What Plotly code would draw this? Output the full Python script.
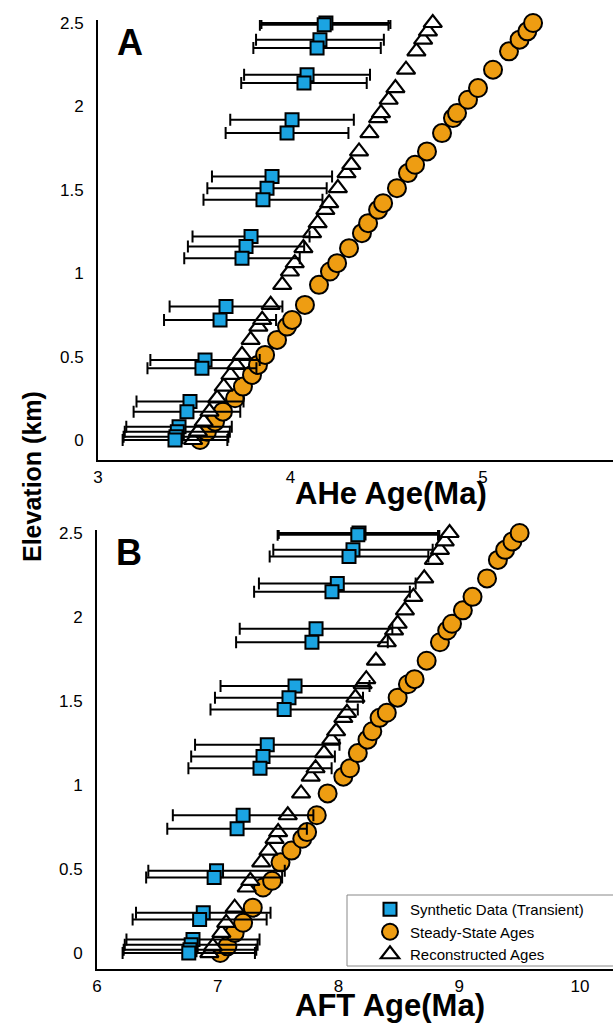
import plotly.graph_objects as go

# ---------------- data ----------------
# Panel A (AHe)
ahe_syn_elev = [2.50, 2.49, 2.40, 2.35, 2.19, 2.14, 1.92, 1.84, 1.58, 1.51, 1.44, 1.22, 1.16, 1.09,
                0.80, 0.72, 0.48, 0.43, 0.23, 0.17, 0.08, 0.05, 0.02, 0.00]
ahe_syn_age = [4.184, 4.175, 4.153, 4.138, 4.086, 4.070, 4.008, 3.982, 3.904, 3.878, 3.857, 3.795, 3.769, 3.748,
               3.665, 3.634, 3.556, 3.540, 3.478, 3.462, 3.421, 3.412, 3.405, 3.400]
ahe_syn_err = [0.335, 0.334, 0.332, 0.331, 0.327, 0.326, 0.321, 0.319, 0.312, 0.310, 0.309, 0.304, 0.302, 0.300,
               0.293, 0.291, 0.284, 0.283, 0.278, 0.277, 0.274, 0.273, 0.272, 0.272]

ahe_ss_elev = [0.00, 0.05, 0.11, 0.17, 0.25, 0.32, 0.39, 0.45, 0.51, 0.60, 0.68, 0.72, 0.81, 0.93, 1.01, 1.06,
               1.15, 1.24, 1.30, 1.38, 1.42, 1.51, 1.60, 1.65, 1.73, 1.84, 1.93, 1.96, 2.04, 2.11, 2.22, 2.33,
               2.40, 2.45, 2.50]
ahe_ss_age = [3.530, 3.566, 3.608, 3.649, 3.712, 3.753, 3.800, 3.831, 3.868, 3.930, 3.982, 4.008, 4.075, 4.148,
              4.205, 4.242, 4.304, 4.371, 4.403, 4.455, 4.481, 4.553, 4.610, 4.647, 4.709, 4.787, 4.844, 4.865,
              4.922, 4.974, 5.052, 5.135, 5.190, 5.230, 5.260]

ahe_rc_elev = [0.00, 0.05, 0.11, 0.17, 0.25, 0.32, 0.39, 0.45, 0.51, 0.60, 0.68, 0.72, 0.81, 0.93, 1.01, 1.06,
               1.15, 1.24, 1.30, 1.38, 1.42, 1.51, 1.60, 1.65, 1.73, 1.84, 1.93, 1.96, 2.04, 2.11, 2.22, 2.33,
               2.40, 2.45, 2.50]
ahe_rc_age = [3.494, 3.519, 3.549, 3.579, 3.619, 3.653, 3.688, 3.718, 3.748, 3.793, 3.833, 3.853, 3.897, 3.957,
              3.997, 4.022, 4.067, 4.112, 4.141, 4.181, 4.201, 4.246, 4.291, 4.316, 4.356, 4.410, 4.455, 4.470,
              4.510, 4.545, 4.600, 4.654, 4.689, 4.714, 4.739]

# Panel B (AFT)
aft_syn_elev = [2.50, 2.49, 2.40, 2.36, 2.20, 2.15, 1.93, 1.85, 1.59, 1.52, 1.45, 1.24, 1.17, 1.10,
                0.82, 0.74, 0.49, 0.45, 0.24, 0.20, 0.08, 0.05, 0.02, 0.00]
aft_syn_age = [8.170, 8.160, 8.120, 8.087, 7.990, 7.946, 7.814, 7.780, 7.640, 7.590, 7.550, 7.410, 7.375, 7.350,
               7.210, 7.160, 6.990, 6.970, 6.880, 6.850, 6.795, 6.780, 6.770, 6.760]
aft_syn_err = [0.665, 0.664, 0.660, 0.657, 0.649, 0.645, 0.632, 0.628, 0.617, 0.613, 0.610, 0.598, 0.595, 0.593,
               0.582, 0.578, 0.565, 0.563, 0.557, 0.555, 0.551, 0.550, 0.549, 0.548]

aft_ss_elev = [0.00, 0.04, 0.12, 0.18, 0.27, 0.39, 0.43, 0.54, 0.61, 0.68, 0.72, 0.82, 0.95, 1.05, 1.10, 1.19,
               1.27, 1.32, 1.40, 1.43, 1.52, 1.60, 1.63, 1.74, 1.85, 1.92, 1.96, 2.04, 2.12, 2.23, 2.34, 2.40,
               2.45, 2.50]
aft_ss_age = [7.02, 7.08, 7.14, 7.21, 7.29, 7.375, 7.45, 7.52, 7.61, 7.70, 7.74, 7.82, 7.91, 8.04, 8.095, 8.16,
              8.24, 8.28, 8.34, 8.40, 8.49, 8.575, 8.63, 8.73, 8.84, 8.90, 8.94, 9.03, 9.11, 9.23, 9.32, 9.38,
              9.44, 9.50]

aft_rc_elev = [0.00, 0.04, 0.12, 0.18, 0.27, 0.39, 0.43, 0.54, 0.61, 0.68, 0.72, 0.82, 0.95, 1.05, 1.10, 1.19,
               1.27, 1.32, 1.40, 1.43, 1.52, 1.60, 1.63, 1.74, 1.85, 1.92, 1.96, 2.04, 2.12, 2.23, 2.34, 2.40,
               2.45, 2.50]
aft_rc_age = [6.93, 6.96, 7.03, 7.07, 7.14, 7.24, 7.27, 7.36, 7.42, 7.47, 7.50, 7.58, 7.69, 7.77, 7.81, 7.88,
              7.94, 7.98, 8.04, 8.07, 8.14, 8.20, 8.23, 8.31, 8.40, 8.46, 8.49, 8.55, 8.62, 8.71, 8.79, 8.84,
              8.88, 8.92]

elev_ticks = [0, 0.5, 1, 1.5, 2, 2.5]
elev_ticktext = ["0", "0.5", "1", "1.5", "2", "2.5"]
ahe_ticks = [3, 4, 5]
aft_ticks = [6, 7, 8, 9, 10]

series_names = ["Synthetic Data (Transient)", "Steady-State Ages", "Reconstructed Ages"]

# ---------------- styling ----------------
W, H = 613, 1025
BLUE = "#1ba4e2"
ORANGE = "#ee9d12"
FONT = "Liberation Sans, Arial, Helvetica, sans-serif"


def fx(p):
    return p / W


def fy(p):
    return 1 - p / H


fig = go.Figure()


def add_panel(xa, ya, syn_e, syn_a, syn_err, ss_e, ss_a, rc_e, rc_a, legend):
    fig.add_trace(go.Scatter(
        x=ss_a, y=ss_e, xaxis=xa, yaxis=ya, mode="markers", name=series_names[1],
        marker=dict(symbol="circle", size=18, color=ORANGE, line=dict(color="black", width=2)),
        cliponaxis=False, showlegend=legend, legendrank=2))
    fig.add_trace(go.Scatter(
        x=rc_a, y=rc_e, xaxis=xa, yaxis=ya, mode="markers", name=series_names[2],
        marker=dict(symbol="triangle-up", size=16, color="white", line=dict(color="black", width=2.2)),
        cliponaxis=False, showlegend=legend, legendrank=3))
    fig.add_trace(go.Scatter(
        x=syn_a, y=syn_e, xaxis=xa, yaxis=ya, mode="markers", name=series_names[0],
        marker=dict(symbol="square", size=13, color=BLUE, line=dict(color="black", width=2)),
        error_x=dict(type="data", array=syn_err, symmetric=True, color="black", thickness=2, width=6),
        cliponaxis=False, showlegend=legend, legendrank=1))


add_panel("x", "y", ahe_syn_elev, ahe_syn_age, ahe_syn_err, ahe_ss_elev, ahe_ss_age,
          ahe_rc_elev, ahe_rc_age, False)
add_panel("x2", "y2", aft_syn_elev, aft_syn_age, aft_syn_err, aft_ss_elev, aft_ss_age,
          aft_rc_elev, aft_rc_age, True)

tickfont = dict(family=FONT, size=17, color="black")
common_x = dict(showline=True, linecolor="black", linewidth=2, showgrid=False, zeroline=False,
                ticks="", tickfont=tickfont, ticklabelstandoff=1)
common_y = dict(showline=True, linecolor="black", linewidth=2, showgrid=False, zeroline=False,
                ticks="", tickfont=tickfont, tickvals=elev_ticks, ticktext=elev_ticktext,
                ticklabelstandoff=9)

fig.update_layout(
    xaxis=dict(domain=[fx(98), 1], range=[3, 3 + (613 - 98) / 192.5], tickvals=ahe_ticks,
               anchor="y", **common_x),
    yaxis=dict(domain=[fy(460), fy(20)], range=[-0.12, 2.518], anchor="x", **common_y),
    xaxis2=dict(domain=[fx(97), 1], range=[6, 6 + (613 - 97) / 120.75], tickvals=aft_ticks,
                anchor="y2", **common_x),
    yaxis2=dict(domain=[fy(969), fy(530)], range=[-0.095, 2.518], anchor="x2", **common_y),
)

annotations = [
    dict(text="<b>A</b>", x=fx(130), y=fy(42), font=dict(family=FONT, size=36, color="black")),
    dict(text="<b>B</b>", x=fx(129), y=fy(552), font=dict(family=FONT, size=36, color="black")),
    dict(text="<b>AHe Age(Ma)</b>", x=fx(391), y=fy(493), font=dict(family=FONT, size=31, color="black")),
    dict(text="<b>AFT Age(Ma)</b>", x=fx(390), y=fy(1005), font=dict(family=FONT, size=31, color="black")),
    dict(text="<b>Elevation (km)</b>", x=fx(32), y=fy(477), textangle=-90,
         font=dict(family=FONT, size=25, color="black")),
]
for a in annotations:
    a.update(xref="paper", yref="paper", showarrow=False, xanchor="center", yanchor="middle")

fig.update_layout(
    width=W, height=H,
    margin=dict(l=0, r=0, t=0, b=0, autoexpand=False),
    paper_bgcolor="white", plot_bgcolor="white",
    annotations=annotations,
    showlegend=True,
    legend=dict(x=fx(370), y=fy(893), xanchor="left", yanchor="top", bgcolor="rgba(0,0,0,0)",
                borderwidth=0, font=dict(family=FONT, size=15, color="black"),
                tracegroupgap=0, itemsizing="trace"),
    shapes=[dict(type="rect", xref="paper", yref="paper", x0=fx(347), x1=1.05, y0=fy(966), y1=fy(895),
                 line=dict(color="#888888", width=1), fillcolor="rgba(0,0,0,0)")],
)

fig.write_html("out.html")
